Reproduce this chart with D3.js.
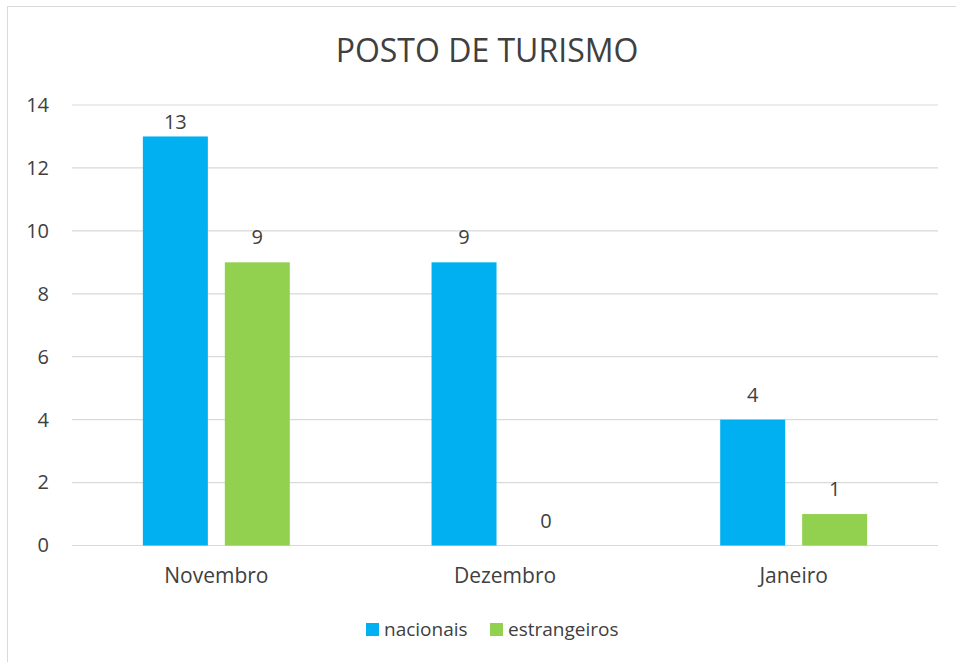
<!DOCTYPE html>
<html>
<head>
<meta charset="utf-8">
<script src="https://cdn.jsdelivr.net/npm/d3@7/dist/d3.min.js"></script>
<style>
  body { margin: 0; background: #fff; }
  svg text { font-family: "Open Sans", sans-serif; fill: #404040; }
</style>
</head>
<body>
<svg id="chart" width="956" height="662"></svg>
<script>
const categories = ["Novembro", "Dezembro", "Janeiro"];
const seriesNames = ["nacionais", "estrangeiros"];
const nacionais = [13, 9, 4];
const estrangeiros = [9, 0, 1];
const yTicks = [0, 2, 4, 6, 8, 10, 12, 14];
const colors = ["#00B0F0", "#92D050"];

const svg = d3.select("#chart");
const plotLeft = 72, plotRight = 938, plotTop = 105, plotBottom = 545.5;

// chart border
svg.append("rect")
  .attr("x", 7.5).attr("y", 6.5)
  .attr("width", 962).attr("height", 700)
  .attr("fill", "none").attr("stroke", "#d9d9d9").attr("stroke-width", 1);

svg.append("text")
  .attr("x", 487).attr("y", 62)
  .attr("text-anchor", "middle")
  .style("font-size", "32px")
  .text("POSTO DE TURISMO");

const x0 = d3.scaleBand().domain(categories).range([plotLeft, plotRight])
  .paddingInner(0.491).paddingOuter(0.2455);
const x1 = d3.scaleBand().domain(seriesNames).range([0, x0.bandwidth()])
  .paddingInner(0.207).paddingOuter(0);
const y = d3.scaleLinear().domain([0, 14]).range([plotBottom, plotTop]);

// gridlines
svg.append("g").selectAll("line").data(yTicks).join("line")
  .attr("x1", plotLeft).attr("x2", plotRight)
  .attr("y1", d => y(d)).attr("y2", d => y(d))
  .attr("stroke", "#d9d9d9").attr("stroke-width", 1.2);

// y axis labels
const yAxis = svg.append("g")
  .attr("transform", `translate(${plotLeft},0)`)
  .call(d3.axisLeft(y).tickValues(yTicks).tickSize(0).tickPadding(23));
yAxis.select(".domain").remove();
yAxis.selectAll("text").style("font-size", "20px").attr("fill", "#404040");

// x axis labels
const xAxis = svg.append("g")
  .attr("transform", `translate(0,${plotBottom})`)
  .call(d3.axisBottom(x0).tickSize(0).tickPadding(23));
xAxis.select(".domain").remove();
xAxis.selectAll("text").style("font-size", "21px").attr("fill", "#404040");

const rows = categories.map((c, i) => ({ cat: c, values: [nacionais[i], estrangeiros[i]] }));

const groups = svg.append("g").selectAll("g").data(rows).join("g")
  .attr("transform", d => `translate(${x0(d.cat)},0)`);

groups.selectAll("rect")
  .data(d => d.values.map((v, j) => ({ s: seriesNames[j], v, j })))
  .join("rect")
  .attr("x", d => x1(d.s))
  .attr("y", d => y(d.v))
  .attr("width", x1.bandwidth())
  .attr("height", d => y(0) - y(d.v))
  .attr("fill", d => colors[d.j]);

// value labels, kept inside the plot area like Excel does
groups.selectAll("text.lbl")
  .data(d => d.values.map((v, j) => ({ s: seriesNames[j], v, j })))
  .join("text")
  .attr("class", "lbl")
  .attr("x", d => x1(d.s) + x1.bandwidth() / 2)
  .attr("y", d => Math.max(y(d.v) - 18, plotTop + 24))
  .attr("text-anchor", "middle")
  .style("font-size", "20px")
  .text(d => d.v);

// legend
const legend = svg.append("g");
const legendX = [366, 490];
seriesNames.forEach((name, i) => {
  legend.append("rect")
    .attr("x", legendX[i]).attr("y", 623)
    .attr("width", 13).attr("height", 13)
    .attr("fill", colors[i]);
  legend.append("text")
    .attr("x", legendX[i] + 18).attr("y", 636)
    .style("font-size", "19px")
    .text(name);
});
</script>
</body>
</html>
